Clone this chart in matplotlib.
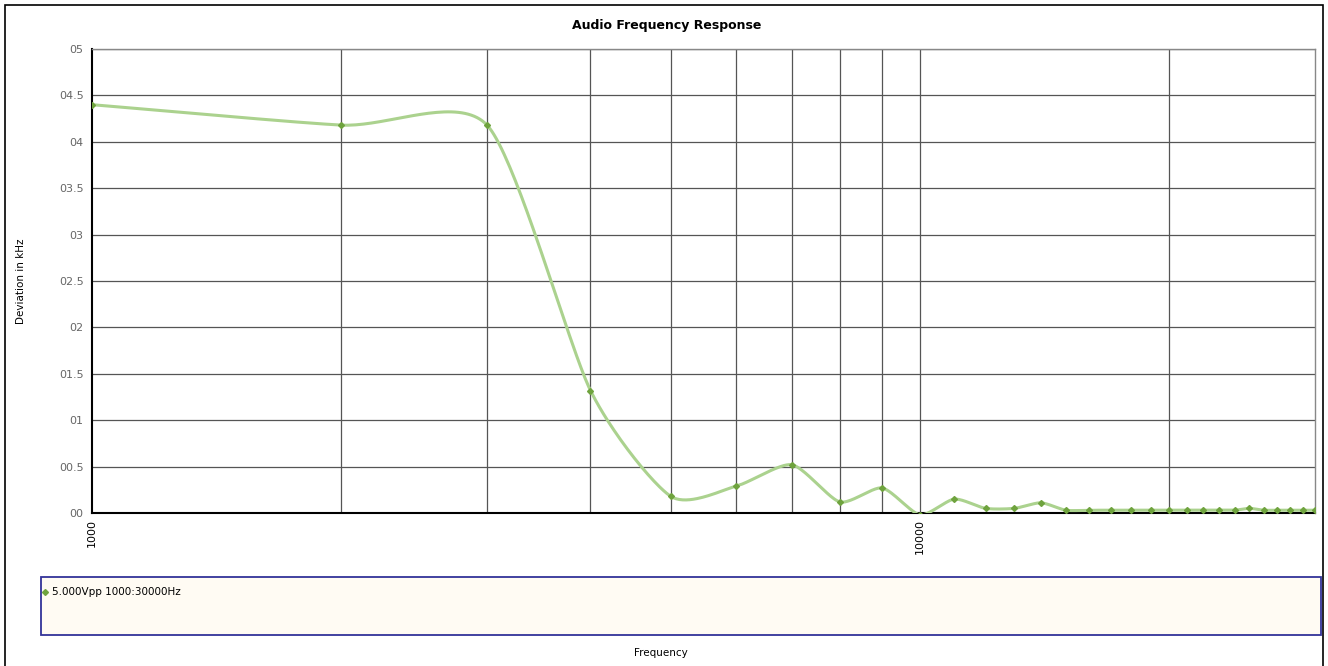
import numpy as np
import matplotlib
matplotlib.use("Agg")
from matplotlib import pyplot as plt
from matplotlib.patches import Rectangle

# measured deviation (kHz) per test frequency (Hz)
freqs = [1000, 2000, 3000, 4000, 5000, 6000, 7000, 8000, 9000, 10000,
         11000, 12000, 13000, 14000, 15000, 16000, 17000, 18000, 19000, 20000,
         21000, 22000, 23000, 24000, 25000, 26000, 27000, 28000, 29000, 30000]
deviation = [0.440, 0.418, 0.418, 0.132, 0.018, 0.029, 0.052, 0.012, 0.027, -0.002,
             0.015, 0.005, 0.005, 0.011, 0.003, 0.003, 0.003, 0.003, 0.003, 0.003,
             0.003, 0.003, 0.003, 0.003, 0.005, 0.003, 0.003, 0.003, 0.003, 0.003]
series_name = "5.000Vpp 1000:30000Hz"
y_ticks = [0, 0.05, 0.1, 0.15, 0.2, 0.25, 0.3, 0.35, 0.4, 0.45, 0.5]
y_tick_labels = ["00", "00.5", "01", "01.5", "02", "02.5", "03", "03.5", "04", "04.5", "05"]
x_grid = [2000, 3000, 4000, 5000, 6000, 7000, 8000, 9000, 10000, 20000]


def cardinal_spline(x, y, tension=0.7, steps=40):
    """Smooth curve through the points, done in log-x space."""
    lx = np.log10(x)
    y = np.asarray(y, dtype=float)
    px = np.concatenate([[2 * lx[0] - lx[1]], lx, [2 * lx[-1] - lx[-2]]])
    py = np.concatenate([[2 * y[0] - y[1]], y, [2 * y[-1] - y[-2]]])
    xs, ys = [], []
    t = np.linspace(0, 1, steps, endpoint=False)
    h00 = 2 * t**3 - 3 * t**2 + 1
    h10 = t**3 - 2 * t**2 + t
    h01 = -2 * t**3 + 3 * t**2
    h11 = t**3 - t**2
    for i in range(1, len(px) - 2):
        for p, out in ((px, xs), (py, ys)):
            p0, p1, p2, p3 = p[i - 1], p[i], p[i + 1], p[i + 2]
            m1 = tension * (p2 - p0) / 2
            m2 = tension * (p3 - p1) / 2
            out.extend(h00 * p1 + h10 * m1 + h01 * p2 + h11 * m2)
    xs.append(lx[-1])
    ys.append(y[-1])
    return 10 ** np.array(xs), np.array(ys)


fig = plt.figure(figsize=(13.28, 6.66), dpi=100)
fig.patch.set_facecolor("white")

# outer chart border
fig.patches.append(Rectangle((5 / 1328, -0.05), 1318 / 1328, 1.05 - 5 / 666,
                             transform=fig.transFigure, fill=False,
                             edgecolor="black", linewidth=1.2))

ax = fig.add_axes([92 / 1328, 1 - 513 / 666, 1223 / 1328, 464 / 666])
ax.set_xscale("log")
ax.set_xlim(1000, 30000)
ax.set_ylim(0, 0.5)

for xv in x_grid:
    ax.axvline(xv, color="#555555", linewidth=0.9, zorder=1)
for yv in y_ticks[1:]:
    ax.axhline(yv, color="#555555", linewidth=0.9, zorder=1)

sx, sy = cardinal_spline(freqs, deviation)
ax.plot(sx, sy, color="#abd28e", linewidth=2.2, solid_capstyle="round", zorder=3)
ax.plot(freqs, deviation, linestyle="none", marker="D", markersize=3.0,
        color="#6fa33e", zorder=4)

ax.set_yticks(y_ticks)
ax.set_yticklabels(y_tick_labels)
ax.set_xticks([1000, 10000])
ax.set_xticklabels(["1000", "10000"], rotation=90)
ax.xaxis.set_minor_locator(matplotlib.ticker.NullLocator())
ax.tick_params(axis="y", length=0, pad=6, labelsize=8, labelcolor="#666666")
ax.tick_params(axis="x", length=0, pad=4, labelsize=8, labelcolor="black")

ax.spines["left"].set_linewidth(1.5)
ax.spines["bottom"].set_linewidth(1.5)
for side in ("top", "right"):
    ax.spines[side].set_color("#888888")
    ax.spines[side].set_linewidth(1.0)

ax.set_ylabel("Deviation in kHz", fontsize=7.5, labelpad=24)

fig.text(0.502, 1 - 25 / 666, "Audio Frequency Response", ha="center", va="center",
         fontsize=9, fontweight="bold")
fig.text(661 / 1328, 1 - 653 / 666, "Frequency", ha="center", va="center", fontsize=7.5)

# legend panel
fig.patches.append(Rectangle((41 / 1328, 1 - 635 / 666), 1280 / 1328, 58 / 666,
                             transform=fig.transFigure, facecolor="#fffbf3",
                             edgecolor="#333399", linewidth=1.3))
fig.lines.append(plt.Line2D([45 / 1328], [1 - 592 / 666], transform=fig.transFigure,
                            marker="D", markersize=3.0, color="#6fa33e", linestyle="none"))
fig.text(52 / 1328, 1 - 592 / 666, series_name, ha="left", va="center", fontsize=7.5)

fig.savefig("out.png", dpi=100)
